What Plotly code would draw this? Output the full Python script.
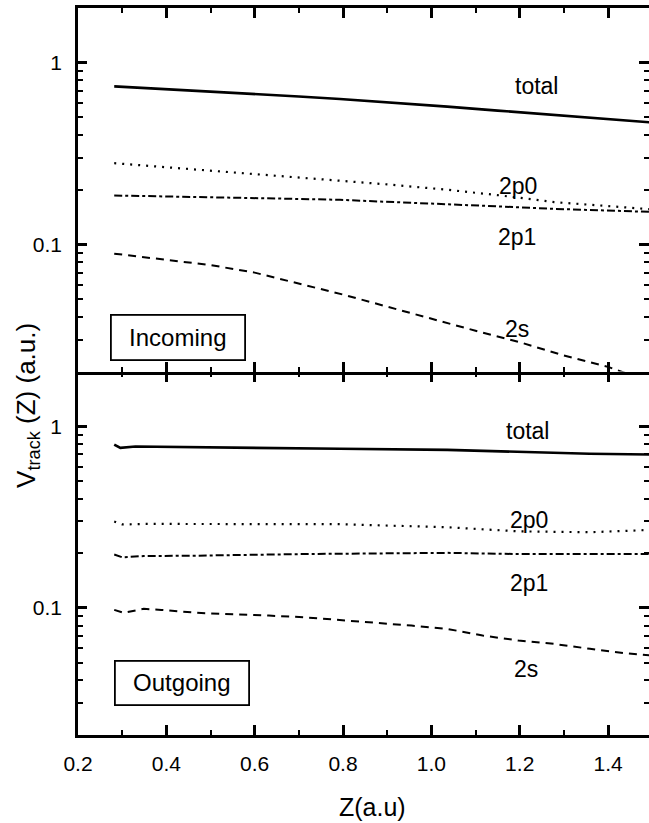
import numpy as np
import plotly.graph_objects as go
from plotly.subplots import make_subplots

# ---------------- data ----------------
# Incoming (top panel)
z_in_total = [0.282, 0.40, 0.551, 0.70, 0.793, 0.90, 1.036, 1.15, 1.278, 1.40, 1.50]
v_in_total = [0.741, 0.715, 0.687, 0.652, 0.631, 0.606, 0.573, 0.545, 0.516, 0.490, 0.469]

z_in_2p0 = [0.282, 0.40, 0.551, 0.70, 0.793, 0.90, 1.036, 1.157, 1.278, 1.40, 1.50]
v_in_2p0 = [0.280, 0.266, 0.250, 0.235, 0.225, 0.214, 0.200, 0.186, 0.171, 0.162, 0.156]

z_in_2p1 = [0.282, 0.40, 0.551, 0.70, 0.793, 0.90, 1.036, 1.15, 1.278, 1.40, 1.50]
v_in_2p1 = [0.186, 0.184, 0.182, 0.178, 0.176, 0.172, 0.167, 0.162, 0.157, 0.153, 0.151]

z_in_2s = [0.282, 0.40, 0.50, 0.60, 0.70, 0.80, 0.90, 1.00, 1.10, 1.20, 1.30, 1.40, 1.45]
v_in_2s = [0.089, 0.082, 0.077, 0.070, 0.061, 0.053, 0.0455, 0.039, 0.0335, 0.029, 0.0245, 0.0212, 0.0192]

# Outgoing (bottom panel)
z_out_total = [0.282, 0.296, 0.33, 0.551, 0.793, 1.036, 1.197, 1.358, 1.50]
v_out_total = [0.793, 0.760, 0.773, 0.760, 0.751, 0.741, 0.720, 0.705, 0.699]

z_out_2p0 = [0.282, 0.300, 0.35, 0.551, 0.793, 1.036, 1.197, 1.358, 1.50]
v_out_2p0 = [0.299, 0.288, 0.290, 0.290, 0.289, 0.278, 0.264, 0.261, 0.269]

z_out_2p1 = [0.282, 0.300, 0.349, 0.470, 0.712, 0.955, 1.036, 1.197, 1.50]
v_out_2p1 = [0.197, 0.190, 0.193, 0.194, 0.198, 0.201, 0.201, 0.198, 0.198]

z_out_2s = [0.282, 0.304, 0.349, 0.389, 0.470, 0.551, 0.632, 0.712, 0.793, 0.874,
            0.955, 1.036, 1.116, 1.197, 1.278, 1.359, 1.440, 1.50]
v_out_2s = [0.0976, 0.0940, 0.0989, 0.0976, 0.0940, 0.0928, 0.0908, 0.0889, 0.0860, 0.0834,
            0.0800, 0.0767, 0.0705, 0.0662, 0.0634, 0.0596, 0.0563, 0.0547]

x_tickvals = [0.2, 0.4, 0.6, 0.8, 1.0, 1.2, 1.4]
x_ticktext = ["0.2", "0.4", "0.6", "0.8", "1.0", "1.2", "1.4"]
x_minorvals = [0.3, 0.5, 0.7, 0.9, 1.1, 1.3, 1.5]
y_tickvals = [0.1, 1]
y_ticktext = ["0.1", "1"]
y_minorvals = [0.02, 0.03, 0.04, 0.05, 0.06, 0.07, 0.08, 0.09,
               0.2, 0.3, 0.4, 0.5, 0.6, 0.7, 0.8, 0.9]

labels_in = [("total", 1.237, 0.747), ("2p0", 1.197, 0.211), ("2p1", 1.193, 0.1097), ("2s", 1.193, 0.0344)]
labels_out = [("total", 1.218, 0.946), ("2p0", 1.222, 0.305), ("2p1", 1.220, 0.138), ("2s", 1.215, 0.0462)]

# ---------------- figure ----------------
FONT = "Liberation Sans, Arial, Helvetica, sans-serif"
fig = make_subplots(rows=2, cols=1, shared_xaxes=True, vertical_spacing=0)

styles = {
    "total": dict(color="black", width=2.6),
    "2p0": dict(color="black", width=2.2, dash="2px,6px"),
    "2p1": dict(color="black", width=2, dash="8px,3px,3px,3px"),
    "2s": dict(color="black", width=2, dash="8px,6px"),
}

top = [("total", z_in_total, v_in_total), ("2p0", z_in_2p0, v_in_2p0),
       ("2p1", z_in_2p1, v_in_2p1), ("2s", z_in_2s, v_in_2s)]
bot = [("total", z_out_total, v_out_total), ("2p0", z_out_2p0, v_out_2p0),
       ("2p1", z_out_2p1, v_out_2p1), ("2s", z_out_2s, v_out_2s)]

for name, z, v in top:
    fig.add_trace(go.Scatter(x=z, y=v, mode="lines", line=styles[name], showlegend=False,
                             hoverinfo="skip"), row=1, col=1)
for name, z, v in bot:
    fig.add_trace(go.Scatter(x=z, y=v, mode="lines", line=styles[name], showlegend=False,
                             hoverinfo="skip"), row=2, col=1)

# invisible traces that carry the extra tick-only axes
fig.add_trace(go.Scatter(x=z_in_total, y=v_in_total, mode="lines", line=dict(width=0),
                         opacity=0, showlegend=False, hoverinfo="skip", xaxis="x", yaxis="y3"))
fig.add_trace(go.Scatter(x=z_out_total, y=v_out_total, mode="lines", line=dict(width=0),
                         opacity=0, showlegend=False, hoverinfo="skip", xaxis="x2", yaxis="y4"))
fig.add_trace(go.Scatter(x=z_out_total, y=v_out_total, mode="lines", line=dict(width=0),
                         opacity=0, showlegend=False, hoverinfo="skip", xaxis="x3", yaxis="y2"))

xrng = [0.2, 1.4927]
yrng = [np.log10(0.02), np.log10(2.0)]

minor_x = dict(tickvals=x_minorvals, ticks="inside", ticklen=5, tickwidth=2.2,
               tickcolor="black", showgrid=False)
xcommon = dict(range=xrng, tickvals=x_tickvals, ticktext=x_ticktext,
               ticks="inside", ticklen=10, tickwidth=2.5, tickcolor="black",
               showline=True, linewidth=2.5, linecolor="black",
               showgrid=False, zeroline=False, minor=minor_x,
               tickfont=dict(family=FONT, size=21, color="black"))
fig.update_xaxes(mirror="ticks", row=1, col=1, **xcommon)
fig.update_xaxes(mirror=False, ticklabelstandoff=8, row=2, col=1, **xcommon)

ycommon = dict(type="log", range=yrng, tickvals=y_tickvals, ticktext=y_ticktext,
               ticks="inside", ticklen=9, tickwidth=2.5, tickcolor="black",
               showline=True, linewidth=2.5, linecolor="black", mirror=False,
               showgrid=False, zeroline=False, ticklabelstandoff=9,
               minor=dict(tickvals=y_minorvals, ticks="inside", ticklen=5, tickwidth=2.2,
                          tickcolor="black", showgrid=False),
               tickfont=dict(family=FONT, size=21, color="black"))
fig.update_yaxes(**ycommon)

rightax = dict(type="log", range=yrng, side="right", tickvals=y_tickvals,
               ticks="inside", ticklen=10, tickwidth=2.5, tickcolor="black",
               showline=False, showticklabels=False, showgrid=False, zeroline=False,
               minor=dict(tickvals=y_minorvals, ticks="inside", ticklen=5, tickwidth=2.2,
                          tickcolor="black", showgrid=False))

fig.update_layout(
    yaxis3=dict(overlaying="y", anchor="x", **rightax),
    yaxis4=dict(overlaying="y2", anchor="x2", **rightax),
    xaxis3=dict(overlaying="x2", anchor="y2", side="top", range=xrng, tickvals=x_tickvals,
                ticks="inside", ticklen=10, tickwidth=2.5, tickcolor="black",
                showline=False, showticklabels=False, showgrid=False, zeroline=False,
                minor=minor_x),
)

ann = []
for txt, xv, yv in labels_in:
    ann.append(dict(text=txt, x=xv, y=np.log10(yv), xref="x", yref="y", showarrow=False,
                    xanchor="center", yanchor="middle",
                    font=dict(family=FONT, size=23, color="black")))
for txt, xv, yv in labels_out:
    ann.append(dict(text=txt, x=xv, y=np.log10(yv), xref="x2", yref="y2", showarrow=False,
                    xanchor="center", yanchor="middle",
                    font=dict(family=FONT, size=23, color="black")))

ann.append(dict(text="Incoming", x=0.175, y=0.0924, xref="x domain", yref="y domain",
                xanchor="center", yanchor="middle",
                showarrow=False, width=132, height=43, borderpad=0, bordercolor="black",
                borderwidth=1.8, bgcolor="white", font=dict(family=FONT, size=24, color="black")))
ann.append(dict(text="Outgoing", x=0.1816, y=0.142, xref="x2 domain", yref="y2 domain",
                xanchor="center", yanchor="middle",
                showarrow=False, width=132, height=42, borderpad=0, bordercolor="black",
                borderwidth=1.8, bgcolor="white", font=dict(family=FONT, size=24, color="black")))

ann.append(dict(text="Z(a.u)", x=0.515, y=-0.099, xref="paper", yref="paper", showarrow=False,
                xanchor="center", yanchor="middle",
                font=dict(family=FONT, size=25, color="black")))
ann.append(dict(text="V<sub>track</sub> (Z) (a.u.)", x=-0.0876, y=0.454, xref="paper", yref="paper",
                showarrow=False, textangle=-90, xanchor="center", yanchor="middle",
                font=dict(family=FONT, size=26, color="black")))

fig.update_layout(
    annotations=ann,
    width=649, height=823,
    margin=dict(l=78, r=0, t=8, b=88),
    plot_bgcolor="white", paper_bgcolor="white",
    showlegend=False,
)

fig.write_html("out.html")
